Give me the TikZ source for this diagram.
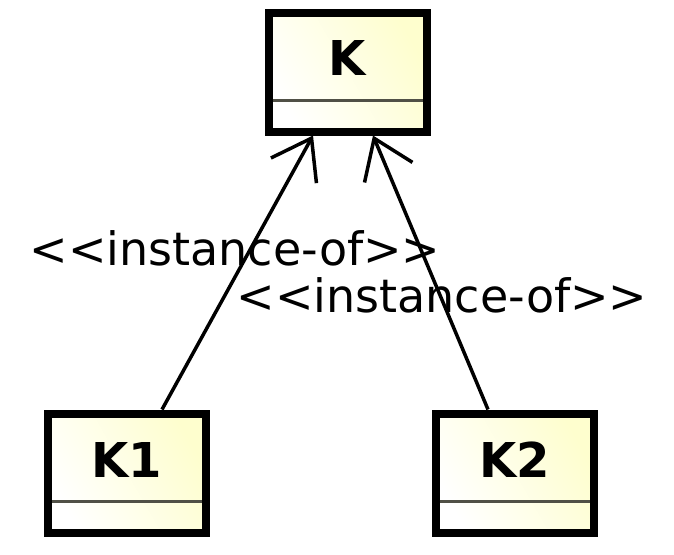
\documentclass[tikz,border=0pt]{standalone}
\usepackage{fontspec}
\setmainfont{DejaVu Sans}
\newfontfamily\stereofont{DejaVu Sans}
\usepackage{tikz}
\usetikzlibrary{arrows.meta}
\tikzset {>={Straight Barb[length=37pt,width=52pt]}}
\definecolor{classfill}{RGB}{254,254,206}
\definecolor{divgray}{RGB}{80,80,70}

\begin{document}
\begin{tikzpicture}[x=1pt,y=-1pt,
  classbox/.style={draw,line width=8pt,minimum width=158pt,minimum height=119pt,
    left color=white,right color=classfill,shading angle=120},
  classname/.style={font=\fontsize{48}{52}\selectfont\bfseries,inner sep=0pt},
  stereo/.style={font=\fontsize{46}{50}\stereofont,inner sep=0pt,anchor=base},
  divider/.style={line width=3pt,divgray},
  instof/.style={->,line width=3.5pt}]
\useasboundingbox (0,0) rectangle (674,554);
\foreach \n/\t/\x/\y in {k/K/347.5/72,k1/K1/126.5/473,k2/K2/514.5/473}{
  \node[classbox] (\n) at (\x,\y) {};
  \node[classname] (\n-name) at ([yshift=13.5pt]\n.center) {\t};
  \draw[divider] ([xshift=8pt,yshift=35pt]\n.south west)
     -- ([xshift=-8pt,yshift=35pt]\n.south east);
}
\draw[instof] ([xshift=35.5pt]k1.north) -- ([xshift=-34.5pt]k.south);
\draw[instof] ([xshift=-26.5pt]k2.north) -- ([xshift=25.5pt]k.south);
\node[stereo] (inst1) at (235,265) {<<instance-of>>};
\node[stereo] (inst2) at (442,312) {<<instance-of>>};
\end{tikzpicture}
\end{document}
